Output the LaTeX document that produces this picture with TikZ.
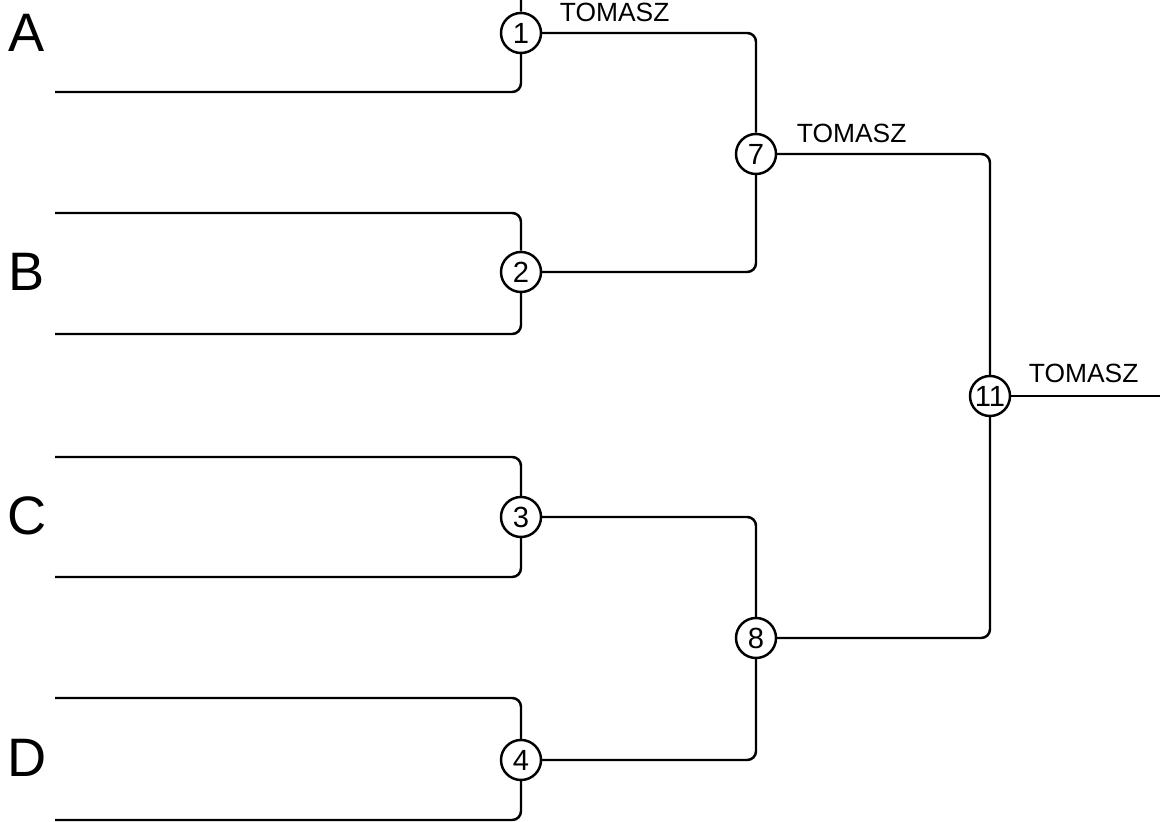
\documentclass[tikz,border=0pt]{standalone}
\usepackage{fontspec}
\setmainfont{Liberation Sans}
\usetikzlibrary{positioning,calc}

\begin{document}
\begin{tikzpicture}[x=0.01cm,y=-0.01cm,
    wire/.style={draw,line width=0.7pt,rounded corners=2.5pt},
    game/.style={circle,draw,line width=0.7pt,fill=white,minimum size=0.4cm,inner sep=0pt,font=\fontsize{8.3}{9}\selectfont},
    team/.style={inner sep=0pt,font=\fontsize{15.4}{16}\selectfont},
    winner/.style={inner sep=0pt,anchor=base west,font=\fontsize{7.5}{9}\selectfont}]
  \clip (0,0) rectangle (1160,822);
  % games
  \node[game] (g1)  at (521,33)  {1};
  \node[game] (g2)  at (521,272) {2};
  \node[game] (g3)  at (521,517) {3};
  \node[game] (g4)  at (521,760) {4};
  \node[game] (g7)  at (756,154) {7};
  \node[game] (g8)  at (756,638) {8};
  \node[game] (g11) at (990,396) {11};
  % team slots
  \node[team] (tA) at (27,33)  {A};
  \node[team] (tB) at (27,272) {B};
  \node[team] (tC) at (27,516) {C};
  \node[team] (tD) at (27,758) {D};
  \coordinate (a1) at (55,-27);  \coordinate (a2) at (55,92);
  \coordinate (b1) at (55,213);  \coordinate (b2) at (55,334);
  \coordinate (c1) at (55,457);  \coordinate (c2) at (55,577);
  \coordinate (d1) at (55,698);  \coordinate (d2) at (55,820);
  \coordinate (champ) at (1165,396);
  % first round
  \draw[wire] (a1) -| (g1);
  \draw[wire] (a2) -| (g1);
  \draw[wire] (b1) -| (g2);
  \draw[wire] (b2) -| (g2);
  \draw[wire] (c1) -| (g3);
  \draw[wire] (c2) -| (g3);
  \draw[wire] (d1) -| (g4);
  \draw[wire] (d2) -| (g4);
  % later rounds
  \draw[wire] (g1) -| (g7);
  \draw[wire] (g2) -| (g7);
  \draw[wire] (g3) -| (g8);
  \draw[wire] (g4) -| (g8);
  \draw[wire] (g7) -| (g11);
  \draw[wire] (g8) -| (g11);
  \draw[wire] (g11) -- (champ);
  % winners
  \node[winner] (w1)  at ($(g1.east)+(17,-11)$)  {TOMASZ};
  \node[winner] (w7)  at ($(g7.east)+(19,-11)$)  {TOMASZ};
  \node[winner] (w11) at ($(g11.east)+(17,-13)$) {TOMASZ};
\end{tikzpicture}
\end{document}
